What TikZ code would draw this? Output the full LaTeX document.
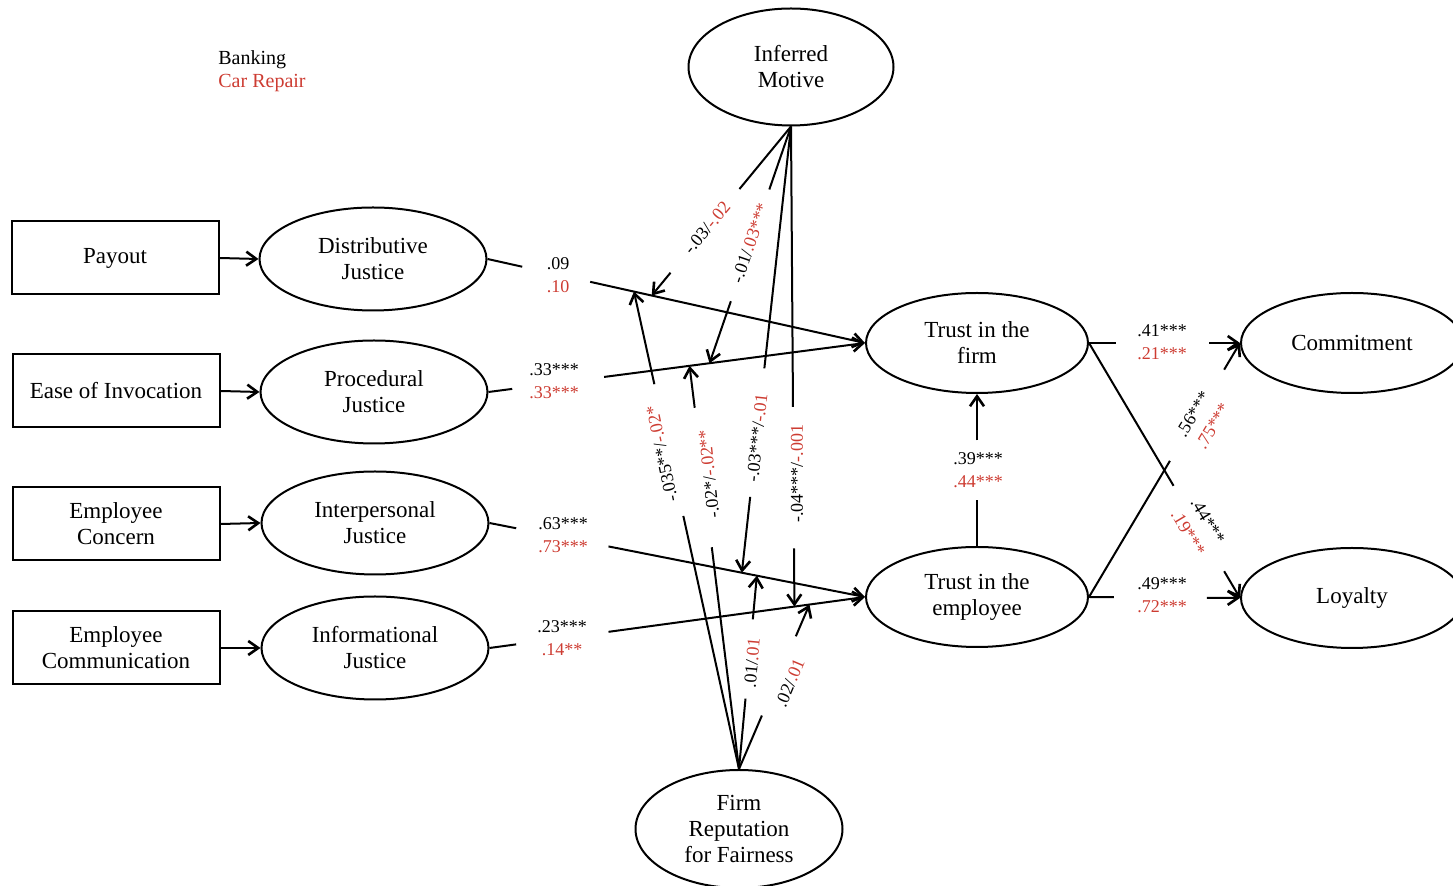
\documentclass[tikz,border=0pt]{standalone}
\usepackage{fontspec}
\setmainfont{Liberation Serif}
\usetikzlibrary{shapes.geometric,arrows.meta,calc}
\definecolor{labred}{RGB}{205,60,50}

% a path drawn in two pieces, leaving room for its coefficient label
\newcommand\splitarrow[4]{%
  \draw[link] (#1) -- ($(#1)!#3!(#2)$);
  \draw[tip] ($(#1)!#4!(#2)$) -- (#2);}

\begin{document}
\begin{tikzpicture}[x=0.5pt,y=-0.5pt,
  every node/.style={font=\fontsize{11.5}{13}\selectfont, align=center, inner sep=0pt},
  box/.style={draw, line width=1pt, minimum width=103.5pt, minimum height=36.5pt},
  oval/.style={draw, ellipse, line width=1pt, minimum width=113.5pt, minimum height=51.5pt},
  trust/.style={oval, minimum width=111pt, minimum height=50pt},
  coef/.style={font=\fontsize{9}{11.5}\selectfont},
  legend/.style={anchor=west, font=\fontsize{10}{12}\selectfont},
  link/.style={line width=1pt},
  tip/.style={link, -{Straight Barb[length=5pt,width=7pt,line width=1.3pt]}},
]
\useasboundingbox (0,0) rectangle (1453,886);
\clip (0,0) rectangle (1453,886);

% legend
\node[legend] (lbank) at (218,60) {Banking};
\node[legend, text=labred] (lcar) at (218,83) {Car Repair};

% observed measures
\node[box] (pay) at (115,258) {Payout};
\node[box] (eoi) at (116,391) {Ease of Invocation};
\node[box] (ec)  at (116,524) {Employee\\Concern};
\node[box] (ecm) at (116,648) {Employee\\Communication};

% justice constructs
\node[oval] (dj)  at (373,259) {Distributive\\Justice};
\node[oval] (pj)  at (374,392) {Procedural\\Justice};
\node[oval] (ipj) at (375,523) {Interpersonal\\Justice};
\node[oval] (ifj) at (375,648) {Informational\\Justice};

% moderators
\node[oval, minimum width=102.5pt, minimum height=58.5pt] (im) at (791,67) {Inferred\\Motive};
\node[oval, minimum width=103.5pt, minimum height=59pt] (fr) at (739,829) {Firm\\Reputation\\for Fairness};

% trust and outcomes
\node[trust] (tf)  at (977,343) {Trust in the\\firm};
\node[trust] (te)  at (977,597) {Trust in the\\employee};
\node[trust] (com) at (1352,343) {Commitment};
\node[trust] (loy) at (1352,598) {Loyalty};

% measures to constructs
\foreach \a/\b in {pay/dj, eoi/pj, ec/ipj, ecm/ifj}
  \draw[tip] (\a.east) -- (\b.west);

% points on the justice paths hit by the moderators
\coordinate (m1) at ($(dj.east)!0.435!(tf.west)$);
\coordinate (r1) at ($(dj.east)!0.388!(tf.west)$);
\coordinate (m2) at ($(pj.east)!0.587!(tf.west)$);
\coordinate (r2) at ($(pj.east)!0.534!(tf.west)$);
\coordinate (m3) at ($(ipj.east)!0.672!(te.west)$);
\coordinate (r3) at ($(ipj.east)!0.712!(te.west)$);
\coordinate (m4) at ($(ifj.east)!0.812!(te.west)$);
\coordinate (r4) at ($(ifj.east)!0.852!(te.west)$);

% structural paths
\splitarrow{dj.east}{tf.west}{0.092}{0.272}
\splitarrow{pj.east}{tf.west}{0.063}{0.307}
\splitarrow{ipj.east}{te.west}{0.071}{0.317}
\splitarrow{ifj.east}{te.west}{0.071}{0.317}
\splitarrow{te.north}{tf.south}{0.305}{0.695}
\splitarrow{tf.east}{com.west}{0.176}{0.797}
\splitarrow{te.east}{loy.west}{0.164}{0.78}
\splitarrow{tf.east}{loy.west}{0.56}{0.895}
\splitarrow{te.east}{com.west}{0.536}{0.895}

% moderating effects
\splitarrow{im.south}{m1}{0.37}{0.865}
\splitarrow{im.south}{m2}{0.266}{0.738}
\splitarrow{im.south}{m3}{0.542}{0.83}
\splitarrow{im.south}{m4}{0.584}{0.879}
\splitarrow{fr.north}{r1}{0.53}{0.806}
\splitarrow{fr.north}{r2}{0.55}{0.896}
\splitarrow{fr.north}{r3}{0.364}{0.774}
\splitarrow{fr.north}{r4}{0.325}{0.807}

% coefficients: banking / car repair
\node[coef] (c1) at (558,275) {.09\\\textcolor{labred}{.10}};
\node[coef] (c2) at (554,381) {.33***\\\textcolor{labred}{.33***}};
\node[coef] (c3) at (563,535) {.63***\\\textcolor{labred}{.73***}};
\node[coef] (c4) at (562,638) {.23***\\\textcolor{labred}{.14**}};
\node[coef] (c5) at (978,470) {.39***\\\textcolor{labred}{.44***}};
\node[coef] (c6) at (1162,342) {.41***\\\textcolor{labred}{.21***}};
\node[coef] (c7) at (1162,595) {.49***\\\textcolor{labred}{.72***}};
\node[coef, rotate=59]  (c8) at (1203,420) {.56***\\\textcolor{labred}{.75***}};
\node[coef, rotate=-59] (c9) at (1198,527) {.44***\\\textcolor{labred}{.19***}};

\node[coef, rotate=50]  (d1) at (707,228) {-.03/\textcolor{labred}{-.02}};
\node[coef, rotate=71]  (d2) at (750,243) {-.01/\textcolor{labred}{.03***}};
\node[coef, rotate=84]  (d3) at (757,438) {-.03***/\textcolor{labred}{-.01}};
\node[coef, rotate=90]  (d4) at (797,474) {-.04***/\textcolor{labred}{-.001}};
\node[coef, rotate=102] (e1) at (662,454) {-.035**/\textcolor{labred}{-.02*}};
\node[coef, rotate=96]  (e2) at (709,474) {-.02*/\textcolor{labred}{-.02**}};
\node[coef, rotate=85]  (e3) at (752,663) {.01/\textcolor{labred}{.01}};
\node[coef, rotate=67]  (e4) at (790,683) {.02/\textcolor{labred}{.01}};
\end{tikzpicture}
\end{document}
